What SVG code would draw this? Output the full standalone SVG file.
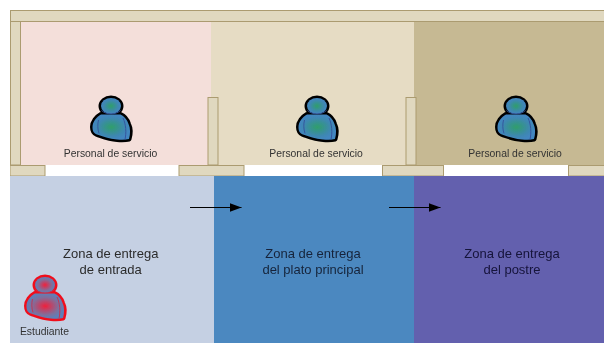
<svg xmlns="http://www.w3.org/2000/svg" width="604" height="343" viewBox="0 0 604 343">
<style>
.wall{fill:#e0d8bf;stroke:#ab9b6f;stroke-width:1}
text{font-family:"Liberation Sans",Arial,sans-serif;text-anchor:middle}
.s{font-size:10.4px;fill:#333}
.z{font-size:13px;fill:#2c2c2c}
.d{fill:#16243a}
.v{fill:#15133a}
.line{stroke:#000;stroke-width:1;fill:none}
.staff{--o:#000;--i:#33509a;--f:url(#gb)}
.student{--o:#f0101e;--i:#c8304c;--f:url(#gr)}
</style>
<defs>
<filter id="soft" x="0" y="0" width="100%" height="100%"><feGaussianBlur stdDeviation="0.5"/></filter>
<radialGradient id="gb"><stop offset="0" stop-color="#2f9e6a"/><stop offset="0.700" stop-color="#3d88b0"/><stop offset="1" stop-color="#4386c0"/></radialGradient>
<radialGradient id="gr"><stop offset="0" stop-color="#f0203c"/><stop offset="0.700" stop-color="#7f6f9c"/><stop offset="1" stop-color="#5f7fb8"/></radialGradient>
<marker id="ah" markerWidth="12" markerHeight="9" refX="12" refY="4.500" orient="auto" markerUnits="userSpaceOnUse"><path d="M0 0L12 4.500L0 9Z" fill="#000"/></marker>
<path id="torso" d="M-10 -11.500C-14.500 -9 -18.500 -4 -18.500 1C-18.500 5 -17.500 7 -14 8.500C-8 10.500 -2 13 6 13.500C11 13.800 15 13.800 18 13C19.500 8 19.500 2 17.500 -2C16 -6.500 13 -10 9.500 -11.500Z"/>
<g id="person">
<use href="#torso" fill="none" stroke="var(--o)" stroke-width="5" stroke-linejoin="round"/>
<ellipse cx="0" cy="-20" rx="10" ry="8" fill="none" stroke="var(--o)" stroke-width="5"/>
<use href="#torso" fill="var(--f)"/>
<ellipse cx="0" cy="-20" rx="10" ry="8" fill="var(--f)"/>
<path d="M-12.500 -6C-13.500 -2 -13.500 3 -12 7.500M12 -8C15 -2 15.500 7 14 13.500M-9.500 -15.500C-5 -11 5 -11 9.500 -15.500" fill="none" stroke="var(--i)" stroke-width="0.900"/>
</g>
</defs>
<rect width="604" height="343" fill="#fff"/>
<g filter="url(#soft)">
<g id="zones">
<rect id="zone-pink" x="20" y="21" width="191" height="144" fill="#f4dfda"/>
<rect id="zone-beige" x="211" y="21" width="203" height="144" fill="#e6dcc4"/>
<rect id="zone-tan" x="414" y="21" width="190" height="144" fill="#c6b993"/>
</g>
<g id="walls">
<rect class="wall" x="10.500" y="10.500" width="594" height="11"/>
<rect class="wall" x="10.500" y="21.500" width="10" height="143.500"/>
<rect class="wall" x="208" y="97.500" width="10" height="67.500"/>
<rect class="wall" x="406" y="97.500" width="10" height="67.500"/>
<rect class="wall" x="10" y="165.500" width="35" height="10.500"/>
<rect class="wall" x="179" y="165.500" width="65" height="10.500"/>
<rect class="wall" x="382.500" y="165.500" width="61" height="10.500"/>
<rect class="wall" x="568.500" y="165.500" width="36" height="10.500"/>
</g>
<g id="entrada"><rect x="10" y="176" width="204" height="167" fill="#c5d0e3"/><text class="z" x="110.700" y="258">Zona de entrega</text><text class="z" x="110.700" y="274">de entrada</text></g>
<g id="principal"><rect x="214" y="176" width="200" height="167" fill="#4c88c0"/><text class="z d" x="313" y="258">Zona de entrega</text><text class="z d" x="313" y="274">del plato principal</text></g>
<g id="postre"><rect x="414" y="176" width="190" height="167" fill="#6460ae"/><text class="z v" x="512" y="258">Zona de entrega</text><text class="z v" x="512" y="274">del postre</text></g>
<g id="personal-1" class="staff" transform="translate(111 126)"><use href="#person"/></g>
<g id="personal-2" class="staff" transform="translate(317 126)"><use href="#person"/></g>
<g id="personal-3" class="staff" transform="translate(516 126)"><use href="#person"/></g>
<g id="estudiante" class="student" transform="translate(45 305)"><use href="#person"/></g>
<g id="labels">
<text class="s" x="110.500" y="156.500">Personal de servicio</text>
<text class="s" x="316" y="156.500">Personal de servicio</text>
<text class="s" x="515" y="156.500">Personal de servicio</text>
<text class="s" x="44.500" y="335">Estudiante</text>
</g>
<g id="connectors">
<line class="line" x1="190" y1="207.500" x2="241.500" y2="207.500" marker-end="url(#ah)"/>
<line class="line" x1="389" y1="207.500" x2="440.500" y2="207.500" marker-end="url(#ah)"/>
</g>
</g>
</svg>
